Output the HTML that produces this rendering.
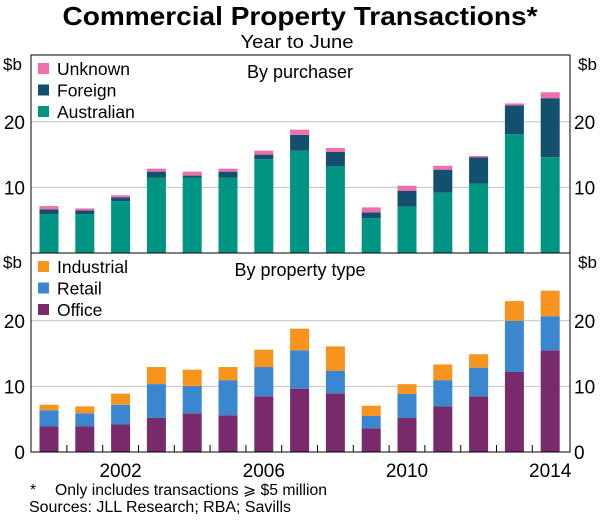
<!DOCTYPE html>
<html><head><meta charset="utf-8"><style>
body{margin:0;background:#fff;width:600px;height:516px;overflow:hidden}
svg text{font-family:"Liberation Sans",Arial,sans-serif;fill:#000}
</style></head><body>
<svg id="c" width="600" height="516">
<text x="300" y="25" font-size="26" font-weight="bold" text-anchor="middle" textLength="475" lengthAdjust="spacingAndGlyphs">Commercial Property Transactions*</text>
<text x="297" y="48" font-size="18" text-anchor="middle" textLength="113" lengthAdjust="spacingAndGlyphs">Year to June</text>
<g id="g"></g>
<text x="30" y="495" font-size="15.5">*</text>
<text x="55" y="495" font-size="15.5" textLength="272" lengthAdjust="spacingAndGlyphs">Only includes transactions ⩾ $5 million</text>
<text x="29" y="512" font-size="15.5" textLength="262" lengthAdjust="spacingAndGlyphs">Sources: JLL Research; RBA; Savills</text>
</svg>
<script>
const years=[2000,2001,2002,2003,2004,2005,2006,2007,2008,2009,2010,2011,2012,2013,2014];
const australian=[5.9,5.9,7.9,11.5,11.5,11.5,14.3,15.6,13.2,5.3,7.1,9.2,10.6,18.1,14.6];
const foreign=[0.75,0.6,0.6,0.9,0.3,0.9,0.7,2.4,2.2,0.9,2.4,3.5,4.0,4.4,9.0];
const unknown=[0.5,0.3,0.3,0.45,0.6,0.45,0.6,0.8,0.6,0.75,0.75,0.6,0.2,0.3,0.9];
const office=[3.9,3.9,4.2,5.2,5.9,5.6,8.5,9.65,8.95,3.6,5.2,6.95,8.5,12.2,15.5];
const retail=[2.45,2.0,3.0,5.15,4.15,5.35,4.45,5.85,3.45,1.9,3.65,4.0,4.35,7.8,5.2];
const industrial=[0.85,1.05,1.7,2.6,2.5,2.0,2.65,3.3,3.7,1.55,1.5,2.4,2.05,3.0,3.9];
const yTicks=[10,20];
const yTicksBottom=[0,10,20];
const xLabels=[2002,2006,2010,2014];

const NS="http://www.w3.org/2000/svg",G=document.getElementById('g');
function mk(t,a,txt){const e=document.createElementNS(NS,t);for(const k in a)e.setAttribute(k,a[k]);if(txt!==undefined)e.textContent=txt;G.appendChild(e);return e;}
const L=31,R=570,x0=49,dx=35.8,bw=19,u=6.56;
const xs=i=>x0+i*dx;
function panel(zero,top,series,colors,names,title,pname,ticks){
  const ys=v=>zero-v*u;
  for(const t of [10,20]){const l=mk('line',{x1:L,x2:R,y1:ys(t),y2:ys(t),stroke:'#c4c4c4','stroke-width':1});
    }
  years.forEach((y,i)=>{let base=0;series.forEach((s,k)=>{
    const r=mk('rect',{x:xs(i)-bw/2,y:ys(base+s[i]),width:bw,height:s[i]*u,fill:colors[k]});
    
    
    base+=s[i];});});
  ticks.forEach(t=>{
    const a=mk('text',{x:L-6,y:ys(t)+7,'font-size':19,'text-anchor':'end'},t);
    
    const b=mk('text',{x:R+4,y:ys(t)+7,'font-size':19},t);
    });
  const u1=mk('text',{x:3,y:top+15,'font-size':17},'$b');
  const u2=mk('text',{x:578,y:top+15,'font-size':17},'$b');
  const tt=mk('text',{x:300,y:top+23,'font-size':18,'text-anchor':'middle'},title);
  for(let k=series.length-1,j=0;k>=0;k--,j++){
    const yy=top+8+j*21.5;
    const s=mk('rect',{x:38,y:yy,width:11,height:11,fill:colors[k]});
    const t=mk('text',{x:57,y:yy+12,'font-size':17.5},names[k]);}
}
panel(253,55,[australian,foreign,unknown],['#009482','#13506f','#f06ea9'],['Australian','Foreign','Unknown'],'By purchaser','top-panel',yTicks);
panel(452,253,[office,retail,industrial],['#782a6c','#3a87cf','#f7941d'],['Office','Retail','Industrial'],'By property type','bottom-panel',yTicksBottom);
let f=mk('rect',{x:L,y:55,width:R-L,height:397,fill:'none',stroke:'#000','stroke-width':1});

let d=mk('line',{x1:L,x2:R,y1:253,y2:253,stroke:'#000'});

for(let i=0;i<years.length-1;i++){const t=mk('line',{x1:xs(i)+dx/2,x2:xs(i)+dx/2,y1:452,y2:445,stroke:'#000'});
  }
xLabels.forEach(y=>{const i=years.indexOf(y);const t=mk('text',{x:xs(i),y:477,'font-size':19,'text-anchor':'middle'},y);
  });
</script>
</body></html>
